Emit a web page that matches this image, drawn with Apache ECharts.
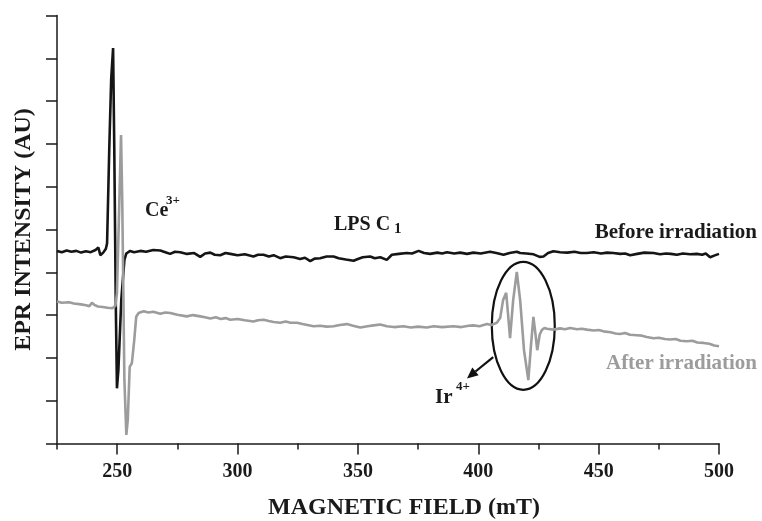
<!DOCTYPE html>
<html>
<head>
<meta charset="utf-8">
<title>EPR spectra</title>
<script src="https://cdn.jsdelivr.net/npm/echarts@6.0.0/dist/echarts.min.js"></script>
<style>
  html, body { margin: 0; padding: 0; background: #fff; }
  #epr { width: 762px; height: 521px; }
</style>
</head>
<body>
<div id="epr"></div>
<script>
// x ticks (mT)
const majorTicks = [250, 300, 350, 400, 450, 500]
const minorTicks = [225, 275, 325, 375, 425, 475]

// before irradiation (black)
const beforeField = [
  225, 227, 229, 231, 233, 235, 237, 239, 241, 242.2, 243.0, 244.2, 245.3, 245.8,
  246.7, 247.5, 248.3, 248.8, 249.4, 249.9, 250.5, 251.7, 253.0, 253.8, 255.4, 257,
  259.6, 262, 265, 267.9, 270, 272, 274, 276.2, 279, 282, 284.5, 286.5, 288.7, 290.5,
  292.8, 295, 297, 300, 303, 306.6, 308.5, 310.8, 313, 315, 317.7, 320, 323.3, 326,
  328, 330.2, 332, 334.3, 337, 339.9, 342, 345, 348.2, 350, 352, 355.1, 357, 359.3,
  362.0, 364.1, 367, 370.3, 372.5, 375.2, 377.5, 380.0, 383, 385, 387.0, 390, 392.5,
  395.3, 398, 401, 404.9, 407.5, 410.5, 413, 416.0, 417.4, 420, 423, 425.5, 427.1,
  429, 431.2, 434, 437, 440, 442.5, 445.1, 448, 451, 453.5, 456.1, 459, 461, 463.1,
  466, 469, 472.8, 475.5, 478, 480, 482.5, 485, 488, 490.8, 493, 494.5, 496.3, 498, 500
]
const beforeValue = [
  4.50, 4.47, 4.51, 4.48, 4.50, 4.46, 4.49, 4.47, 4.52, 4.58, 4.40, 4.46, 4.55, 4.68,
  6.86, 8.50, 9.24, 6.86, 3.35, 1.29, 1.72, 3.35, 4.29, 4.44, 4.50, 4.47,
  4.50, 4.48, 4.52, 4.51, 4.47, 4.43, 4.48, 4.47, 4.43, 4.45, 4.36, 4.44, 4.46, 4.41,
  4.40, 4.45, 4.43, 4.40, 4.42, 4.37, 4.41, 4.41, 4.37, 4.40, 4.33, 4.37, 4.35, 4.31,
  4.34, 4.26, 4.32, 4.33, 4.37, 4.37, 4.33, 4.30, 4.27, 4.31, 4.35, 4.37, 4.33, 4.35,
  4.29, 4.41, 4.43, 4.45, 4.44, 4.50, 4.45, 4.43, 4.46, 4.44, 4.47, 4.44, 4.46,
  4.43, 4.46, 4.44, 4.48, 4.45, 4.41, 4.45, 4.48, 4.45, 4.44, 4.42, 4.36, 4.37,
  4.45, 4.49, 4.47, 4.46, 4.48, 4.45, 4.45, 4.47, 4.44, 4.46, 4.45, 4.43, 4.44, 4.40,
  4.43, 4.46, 4.45, 4.42, 4.44, 4.43, 4.41, 4.44, 4.42, 4.43, 4.41, 4.44, 4.35, 4.39, 4.43
]

// after irradiation (grey)
const afterField = [
  225, 227, 230, 232, 235, 237, 238.5, 239.5, 240.5, 242, 244, 246, 248, 249.3,
  249.9, 250.7, 251.6, 252.1, 253.0, 253.8, 254.4, 255.2, 256.1, 257.1, 257.9, 258.9,
  261.0, 263, 265, 267.9, 270, 272.1, 275, 278.9, 281.5, 284.5, 286.5, 288.7, 291, 293,
  295, 297, 300, 303, 306.6, 308.5, 310.8, 313, 315, 317.7, 320, 322, 324.7, 327, 329,
  331.6, 334.3, 337, 339.9, 342.5, 345.4, 348, 351.0, 354, 356.5, 359.3, 362, 365,
  368.9, 372, 375, 378.6, 381.5, 385, 389.7, 393, 396, 398, 400.5, 403.6, 405.5,
  407.7, 409.1, 410.3, 411.6, 412.4, 413.2, 414.5, 416.0, 417.4, 419.0, 420.8, 421.9,
  422.9, 423.8, 424.5, 425.5, 426.4, 427.5, 428.5, 431.2, 434, 436, 438.2, 441, 443,
  445.1, 448, 450, 452.0, 455, 457, 458.9, 461, 463, 465.8, 468, 470, 472.8, 475,
  477.5, 479.7, 482, 484, 486.6, 489, 491, 493.5, 496, 498, 500
]
const afterValue = [
  3.32, 3.29, 3.30, 3.27, 3.25, 3.23, 3.21, 3.29, 3.24, 3.20, 3.19, 3.17, 3.16, 3.22,
  3.52, 5.22, 7.21, 5.69, 1.48, 0.20, 0.55, 1.79, 1.88, 2.42, 2.96, 3.05,
  3.09, 3.06, 3.08, 3.03, 3.06, 3.05, 3.01, 2.97, 3.00, 2.97, 2.95, 2.92, 2.95, 2.91,
  2.93, 2.89, 2.91, 2.88, 2.85, 2.88, 2.89, 2.86, 2.84, 2.82, 2.85, 2.82, 2.82, 2.79, 2.77,
  2.74, 2.75, 2.73, 2.74, 2.77, 2.79, 2.75, 2.71, 2.74, 2.76, 2.78, 2.74, 2.72,
  2.74, 2.71, 2.73, 2.71, 2.74, 2.72, 2.74, 2.72, 2.75, 2.76, 2.74, 2.79, 2.77,
  2.82, 2.93, 3.35, 3.52, 3.00, 2.46, 3.35, 4.01, 3.35, 2.18, 1.48, 2.30,
  2.96, 2.54, 2.18, 2.54, 2.65, 2.70, 2.68, 2.66, 2.69, 2.67, 2.70, 2.67, 2.68,
  2.66, 2.64, 2.65, 2.62, 2.60, 2.57, 2.56, 2.58, 2.54, 2.53, 2.52, 2.49, 2.46, 2.47,
  2.44, 2.43, 2.44, 2.40, 2.39, 2.40, 2.36, 2.35, 2.33, 2.29, 2.27
]

// Ir4+ circle and arrow, in data coordinates (mT, AU)
const irCenter = [418.7, 2.75]
const arrowFrom = [406.2, 2.02]
const arrowTo = [395.3, 1.52]

const serif = '"Liberation Serif", "Times New Roman", serif'
const ink = '#1a1a1a'
const grey = '#9c9c9c'

const chart = echarts.init(document.getElementById('epr'))

const option = {
  animation: false,
  backgroundColor: '#fff',
  grid: { left: 57, right: 43, top: 15.5, bottom: 77.5, outerBoundsMode: 'none' },
  xAxis: [
    {
      type: 'value',
      min: 225,
      max: 500,
      name: 'MAGNETIC FIELD (mT)',
      nameLocation: 'middle',
      nameGap: 52,
      nameTextStyle: {
        fontFamily: serif, fontWeight: 'bold', fontSize: 24, color: ink,
        padding: [0, 0, 0, 32],
      },
      axisLine: { lineStyle: { color: ink, width: 1.5 } },
      axisTick: { customValues: majorTicks, length: 11, lineStyle: { color: ink, width: 1.5 } },
      axisLabel: {
        customValues: majorTicks,
        margin: 18,
        fontFamily: serif, fontWeight: 'bold', fontSize: 20, color: ink,
      },
      splitLine: { show: false },
    },
    {
      type: 'value',
      min: 225,
      max: 500,
      position: 'bottom',
      axisLine: { show: false },
      axisTick: { customValues: minorTicks, length: 6, lineStyle: { color: ink, width: 1.5 } },
      axisLabel: { show: false },
      splitLine: { show: false },
    },
  ],
  yAxis: {
    type: 'value',
    min: 0,
    max: 10,
    interval: 1,
    name: 'EPR INTENSITY (AU)',
    nameLocation: 'middle',
    nameGap: 21,
    nameTextStyle: { fontFamily: serif, fontWeight: 'bold', fontSize: 24, color: ink },
    axisLine: { show: true, lineStyle: { color: ink, width: 1.5 } },
    axisTick: { show: true, length: 11, lineStyle: { color: ink, width: 1.5 } },
    axisLabel: { show: false },
    splitLine: { show: false },
  },
  series: [
    {
      name: 'Before irradiation',
      type: 'line',
      showSymbol: false,
      lineStyle: { color: '#151515', width: 2.6 },
      data: beforeField.map((f, i) => [f, beforeValue[i]]),
    },
    {
      name: 'After irradiation',
      type: 'line',
      showSymbol: false,
      lineStyle: { color: grey, width: 2.6 },
      data: afterField.map((f, i) => [f, afterValue[i]]),
    },
  ],
}

chart.setOption(option)

// annotations
const txt = (text, x, y, size, color, align) => ({
  type: 'text',
  style: {
    text, x, y,
    font: 'bold ' + size + 'px ' + serif,
    fill: color || ink,
    align: align || 'left',
    verticalAlign: 'middle',
  },
})

const c = chart.convertToPixel({ gridIndex: 0 }, irCenter)
const a0 = chart.convertToPixel({ gridIndex: 0 }, arrowFrom)
const a1 = chart.convertToPixel({ gridIndex: 0 }, arrowTo)
const dx = a1[0] - a0[0]
const dy = a1[1] - a0[1]
const len = Math.sqrt(dx * dx + dy * dy)
const ux = dx / len
const uy = dy / len
const headLen = 11
const headW = 5
const base = [a1[0] - ux * headLen, a1[1] - uy * headLen]

chart.setOption({
  graphic: [
    txt('Ce', 145, 211, 20),
    txt('3+', 166, 201, 13),
    txt('LPS C', 334, 225, 20),
    txt('1', 394, 229, 15),
    txt('Before irradiation', 757, 233, 21, ink, 'right'),
    txt('After irradiation', 757, 364, 21, grey, 'right'),
    txt('Ir', 435, 398, 21),
    txt('4+', 456, 387, 13),
    {
      type: 'ellipse',
      shape: { cx: c[0], cy: c[1], rx: 31.5, ry: 64 },
      style: { fill: 'none', stroke: '#111', lineWidth: 2.2 },
    },
    {
      type: 'line',
      shape: { x1: a0[0], y1: a0[1], x2: base[0], y2: base[1] },
      style: { stroke: '#111', lineWidth: 2.2 },
    },
    {
      type: 'polygon',
      shape: {
        points: [
          a1,
          [base[0] - uy * headW, base[1] + ux * headW],
          [base[0] + uy * headW, base[1] - ux * headW],
        ],
      },
      style: { fill: '#111' },
    },
  ],
})
</script>
</body>
</html>
